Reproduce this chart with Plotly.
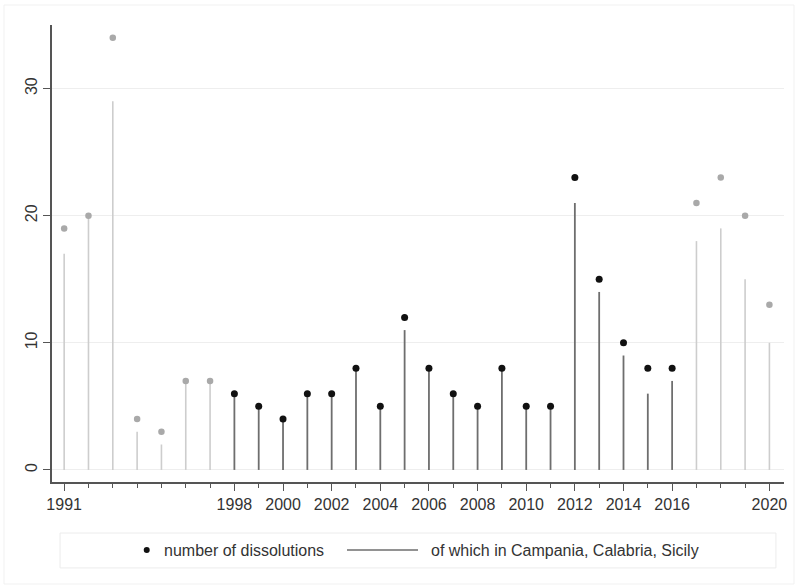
import plotly.graph_objects as go

years = list(range(1991, 2021))
dissolutions = [19, 20, 34, 4, 3, 7, 7, 6, 5, 4, 6, 6, 8, 5, 12, 8, 6, 5, 8, 5, 5,
                23, 15, 10, 8, 8, 21, 23, 20, 13]
south = [17, 20, 29, 3, 2, 7, 7, 6, 5, 4, 6, 6, 8, 5, 11, 8, 6, 5, 8, 5, 5,
         21, 14, 9, 6, 7, 18, 19, 15, 10]
labelled_years = [1991, 1998, 2000, 2002, 2004, 2006, 2008, 2010, 2012, 2014, 2016, 2020]
y_ticks = [0, 10, 20, 30]
legend_labels = ["number of dissolutions", "of which in Campania, Calabria, Sicily"]

# 1998-2016 drawn dark, the rest of the period in light grey
dark = [1998 <= y <= 2016 for y in years]

FONT = "Liberation Sans, Arial, sans-serif"
TEXT = "#333333"
AXIS = "#555555"
DARK_LINE = "#6e6e6e"


def spikes(flag):
    xs, ys = [], []
    for y, v, d in zip(years, south, dark):
        if d == flag:
            xs += [y, y, None]
            ys += [0, v, None]
    return xs, ys


def dots(flag):
    xs = [y for y, d in zip(years, dark) if d == flag]
    ys = [v for v, d in zip(dissolutions, dark) if d == flag]
    return xs, ys


fig = go.Figure()

lx, ly = spikes(False)
fig.add_trace(go.Scatter(x=lx, y=ly, mode="lines", line=dict(color="#cdcdcd", width=1.6),
                         showlegend=False, hoverinfo="skip"))
dx, dy = spikes(True)
fig.add_trace(go.Scatter(x=dx, y=dy, mode="lines", line=dict(color=DARK_LINE, width=1.8),
                         showlegend=False, hoverinfo="skip"))

px, py = dots(False)
fig.add_trace(go.Scatter(x=px, y=py, mode="markers",
                         marker=dict(color="#a9a9a9", size=6.5), showlegend=False))
qx, qy = dots(True)
fig.add_trace(go.Scatter(x=qx, y=qy, mode="markers",
                         marker=dict(color="#111111", size=7), showlegend=False))

# legend panel below the plot, laid out in paper coordinates
LEG_Y = -0.1488
shapes = [
    dict(type="rect", xref="paper", yref="paper", x0=0.011, x1=0.989,
         y0=-0.188, y1=-0.1116, line=dict(color="#ececec", width=1),
         fillcolor="rgba(0,0,0,0)", layer="below"),
    dict(type="rect", xref="paper", yref="paper", x0=-0.0656, x1=1.0137,
         y0=-0.2232, y1=1.0438, line=dict(color="#f1f1f1", width=1),
         fillcolor="rgba(0,0,0,0)", layer="below"),
    # dot key
    dict(type="circle", xref="paper", yref="paper", xsizemode="pixel", ysizemode="pixel",
         xanchor=0.1294, yanchor=LEG_Y, x0=-3, x1=3, y0=-3, y1=3,
         fillcolor="#111111", line=dict(width=0)),
    # line key
    dict(type="line", xref="paper", yref="paper", x0=0.403, x1=0.5, y0=LEG_Y, y1=LEG_Y,
         line=dict(color=DARK_LINE, width=1.3)),
]
annotations = [
    dict(text=legend_labels[0], xref="paper", yref="paper", x=0.1496, y=LEG_Y,
         xanchor="left", yanchor="middle", showarrow=False,
         font=dict(family=FONT, size=16, color=TEXT)),
    dict(text=legend_labels[1], xref="paper", yref="paper", x=0.5144, y=LEG_Y,
         xanchor="left", yanchor="middle", showarrow=False,
         font=dict(family=FONT, size=16, color=TEXT)),
]

fig.update_layout(
    width=798, height=585,
    margin=dict(l=52, r=14, t=25, b=103),
    paper_bgcolor="white", plot_bgcolor="white",
    font=dict(family=FONT, size=16, color=TEXT),
    showlegend=False,
    shapes=shapes,
    annotations=annotations,
)

fig.update_xaxes(
    range=[1990.5, 2020.6],
    tickmode="array", tickvals=labelled_years, ticktext=[str(v) for v in labelled_years],
    ticks="outside", ticklen=7, tickwidth=1.3, tickcolor=AXIS,
    minor=dict(ticks="outside", ticklen=4, tickwidth=1.1, tickcolor=AXIS,
               tick0=1991, dtick=1, showgrid=False),
    showline=True, linecolor=AXIS, linewidth=1.6,
    showgrid=False, zeroline=False,
    tickfont=dict(family=FONT, size=16, color=TEXT),
)
fig.update_yaxes(
    range=[-0.95, 35.0],
    tickmode="array", tickvals=y_ticks, ticktext=[str(v) for v in y_ticks],
    tickangle=-90,
    ticks="outside", ticklen=7, tickwidth=1.3, tickcolor=AXIS,
    showline=True, linecolor=AXIS, linewidth=1.6,
    showgrid=True, gridcolor="#eeeeee", gridwidth=1, zeroline=False,
    tickfont=dict(family=FONT, size=16, color=TEXT),
)

fig.write_html("out.html")
